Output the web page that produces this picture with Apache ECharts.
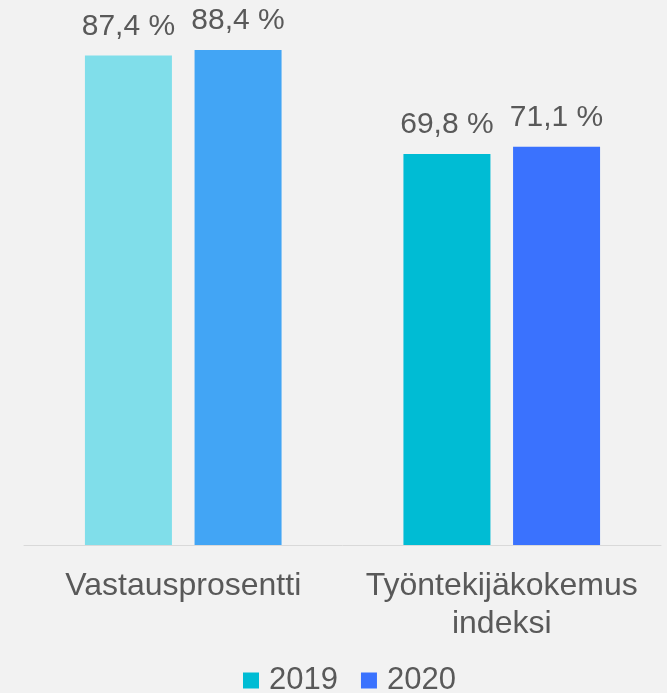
<!DOCTYPE html>
<html>
<head>
<meta charset="utf-8">
<script src="https://cdn.jsdelivr.net/npm/echarts@6/dist/echarts.min.js"></script>
<style>
    html, body { margin: 0; padding: 0; background: #f2f2f2; }
    #table { width: 667px; height: 693px; }
</style>
</head>
<body>
<div id="table"></div>
<script>
var categories = ["Vastausprosentti", "Työntekijäkokemus\nindeksi"];
var values2019 = [87.4, 69.8];
var values2020 = [88.4, 71.1];
// first category uses lighter shades
var colors2019 = ["#80deea", "#00bcd4"];
var colors2020 = ["#42a5f5", "#3a72fe"];

//format label, finnish decimal comma
function fmt(p) {
    return p.value.toFixed(1).replace('.', ',') + ' %';
}

function makeData(vals, cols) {
    var arr = [];
    for (var i = 0; i < vals.length; i++) {
        arr.push({value: vals[i], itemStyle: {color: cols[i]}});
    }
    return arr;
}

//生成图表
function generateTable() {
    var myChart = echarts.init(document.getElementById('table'));
    var labelStyle = {
        show: true,
        position: 'top',
        distance: 14,
        formatter: fmt,
        color: '#595959',
        fontSize: 30,
        fontFamily: 'Liberation Sans'
    };
    var option = {
        backgroundColor: '#f2f2f2',
        animation: false,
        grid: {left: 24, right: 6, top: 41, bottom: 148},
        legend: {
            left: 238,
            bottom: -8,
            itemWidth: 16,
            itemHeight: 16,
            itemGap: 23,
            icon: 'rect',
            textStyle: {color: '#595959', fontSize: 31, fontFamily: 'Liberation Sans', padding: [0, 0, 0, 5]},
            data: ['2019', '2020']
        },
        xAxis: {
            type: 'category',
            data: categories,
            axisLine: {lineStyle: {color: '#d9d9d9', width: 1}},
            axisTick: {show: false},
            axisLabel: {
                interval: 0,
                color: '#595959',
                fontSize: 32,
                lineHeight: 38,
                margin: 22,
                fontFamily: 'Liberation Sans'
            }
        },
        yAxis: {
            type: 'value',
            min: 0,
            max: 90,
            show: false
        },
        series: [{
            name: '2019',
            type: 'bar',
            barWidth: 87,
            barGap: '26%',
            itemStyle: {color: '#00bcd4'},
            label: labelStyle,
            data: makeData(values2019, colors2019)
        }, {
            name: '2020',
            type: 'bar',
            barWidth: 87,
            itemStyle: {color: '#3a72fe'},
            label: labelStyle,
            data: makeData(values2020, colors2020)
        }]
    };
    myChart.setOption(option);
}

generateTable();
</script>
</body>
</html>
